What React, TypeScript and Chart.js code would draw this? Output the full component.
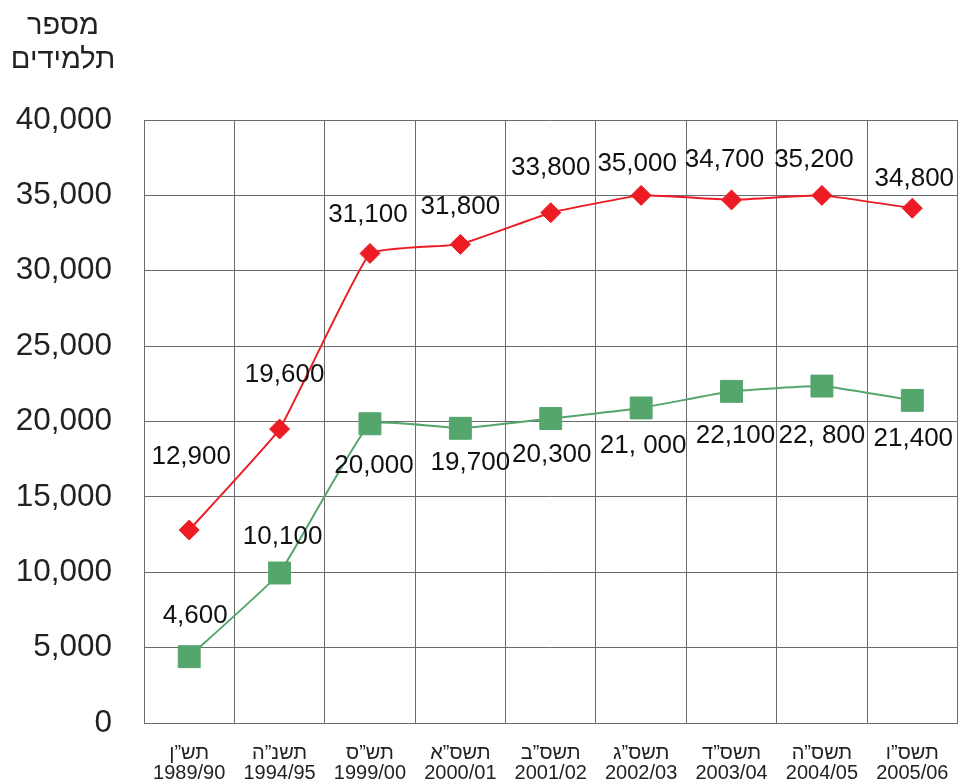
import React, { useEffect, useRef } from "react";
import { Chart, registerables } from "chart.js";

Chart.register(...registerables);

const hebrewYears = ["תש”ן", "תשנ”ה", "תש”ס", "תשס”א", "תשס”ב", "תשס”ג", "תשס”ד", "תשס”ה", "תשס”ו"];
const schoolYears = ["1989/90", "1994/95", "1999/00", "2000/01", "2001/02", "2002/03", "2003/04", "2004/05", "2005/06"];

const redValues = [12800, 19500, 31150, 31750, 33850, 35000, 34700, 35000, 34150];
const greenValues = [4400, 9950, 19850, 19550, 20200, 20900, 22000, 22350, 21400];

const redLabels = ["12,900", "19,600", "31,100", "31,800", "33,800", "35,000", "34,700", "35,200", "34,800"];
const greenLabels = ["4,600", "10,100", "20,000", "19,700", "20,300", "21, 000", "22,100", "22, 800", "21,400"];

const yMin = 0;
const yMax = 40000;
const yStep = 5000;

const titleLines = ["מספר", "תלמידים"];

// label placement relative to each point (pixels)
const redLabelDx = [2, 5, -2, 0, 0, -4, -7, -8, 2];
const redLabelDy = [-73, -54, -39, -38, -45, -32, -40, -36, -29];
const greenLabelDx = [6, 3, 4, 10, 1, 2, 4, 0, 1];
const greenLabelDy = [-41, -36, 42, 35, 36, 38, 44, 50, 38];

const FONT = "'Liberation Sans', Arial, Helvetica, sans-serif";

export default function App() {
  const ref = useRef<HTMLCanvasElement | null>(null);

  useEffect(() => {
    if (!ref.current) return;
    const labelsPlugin = {
      id: "pointLabels",
      afterDatasetsDraw(chart: any) {
        const ctx = chart.ctx;
        ctx.save();
        ctx.font = `26px ${FONT}`;
        ctx.fillStyle = "#111";
        ctx.textAlign = "center";
        ctx.textBaseline = "middle";
        const sets = [
          { texts: redLabels, dx: redLabelDx, dy: redLabelDy },
          { texts: greenLabels, dx: greenLabelDx, dy: greenLabelDy },
        ];
        sets.forEach((s, di) => {
          const meta = chart.getDatasetMeta(di);
          meta.data.forEach((pt: any, i: number) => {
            ctx.fillText(s.texts[i], pt.x + s.dx[i], pt.y + s.dy[i]);
          });
        });
        ctx.restore();
      },
    };
    const titlePlugin = {
      id: "cornerTitle",
      afterDraw(chart: any) {
        const ctx = chart.ctx;
        ctx.save();
        ctx.font = `29px ${FONT}`;
        ctx.fillStyle = "#222";
        ctx.textAlign = "center";
        ctx.textBaseline = "middle";
        ctx.fillText(titleLines[0], 63, 26);
        ctx.fillText(titleLines[1], 63, 60);
        ctx.restore();
      },
    };

    const chart = new Chart(ref.current, {
      type: "line",
      data: {
        labels: hebrewYears.map((h, i) => ["", h, schoolYears[i]]),
        datasets: [
          {
            data: redValues,
            borderColor: "#ED1C24",
            backgroundColor: "#ED1C24",
            borderWidth: 2,
            pointStyle: "rectRot",
            pointRadius: 10,
            pointBorderWidth: 1,
            pointBackgroundColor: "#ED1C24",
            pointBorderColor: "#ED1C24",
            tension: 0.1,
          },
          {
            data: greenValues,
            borderColor: "#55A66C",
            backgroundColor: "#55A66C",
            borderWidth: 2,
            pointStyle: "rect",
            pointRadius: 15.5,
            pointBorderWidth: 1,
            pointBackgroundColor: "#55A66C",
            pointBorderColor: "#55A66C",
            tension: 0.1,
          },
        ],
      },
      options: {
        animation: false,
        responsive: false,
        layout: { padding: { left: 16, right: 2, top: 120, bottom: 0 } },
        plugins: {
          legend: { display: false },
          tooltip: { enabled: false },
          title: { display: false },
        },
        scales: {
          x: {
            offset: true,
            grid: { color: "#6b6b6b", lineWidth: 1, drawTicks: false, offset: true },
            border: { color: "#6b6b6b" },
            afterFit: (scale: any) => {
              scale.height = 61;
              scale.paddingLeft = 0;
              scale.paddingRight = 0;
            },
            ticks: {
              color: "#222",
              padding: 0,
              maxRotation: 0,
              autoSkip: false,
              font: { family: FONT, size: 20, lineHeight: 1.0 },
            },
          },
          y: {
            min: yMin,
            max: yMax,
            grid: { color: "#6b6b6b", lineWidth: 1, drawTicks: false },
            border: { color: "#6b6b6b" },
            afterFit: (scale: any) => {
              scale.width = 128;
            },
            ticks: {
              stepSize: yStep,
              color: "#222",
              padding: 32,
              font: { family: FONT, size: 31.5 },
              callback: (v: any) => Number(v).toLocaleString("en-US"),
            },
          },
        },
      },
      plugins: [labelsPlugin, titlePlugin],
    });
    return () => chart.destroy();
  }, []);

  return (
    <div style={{ position: "absolute", left: 0, top: 0, width: 974, height: 784, background: "#fff", overflow: "hidden" }}>
      <canvas ref={ref} width={974} height={784} style={{ display: "block", width: 974, height: 784 }} />
    </div>
  );
}
